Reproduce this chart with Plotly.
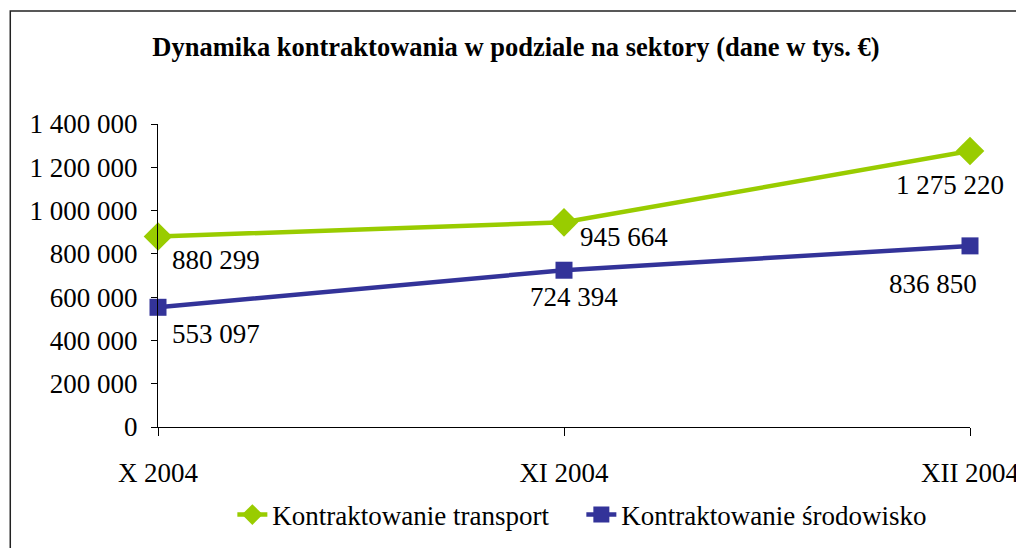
import plotly.graph_objects as go

categories = ["X 2004", "XI 2004", "XII 2004"]
transport = [880299, 945664, 1275220]
srodowisko = [553097, 724394, 836850]
series_names = ["Kontraktowanie transport", "Kontraktowanie środowisko"]
y_ticks = [0, 200000, 400000, 600000, 800000, 1000000, 1200000, 1400000]

# label pixel offsets (dx, dy) per point
transport_label_offsets = [(58, -24), (60, -15), (-20, -34)]
srodowisko_label_offsets = [(58, -27), (10, -27), (-37, -38)]

FONT = "Liberation Serif, Times New Roman, serif"
GREEN = "#99CC00"
BLUE = "#333399"

W, H = 1024, 548
L, T, PW, PH = 150, 116, 819, 303


def fmt(v):
    return f"{v:,}".replace(",", " ")


fig = go.Figure()
fig.add_trace(go.Scatter(
    x=categories, y=transport, name=series_names[0], mode="lines+markers",
    line=dict(color=GREEN, width=4.5),
    marker=dict(symbol="diamond", size=22, color=GREEN),
    cliponaxis=False,
))
fig.add_trace(go.Scatter(
    x=categories, y=srodowisko, name=series_names[1], mode="lines+markers",
    line=dict(color=BLUE, width=4.5),
    marker=dict(symbol="square", size=17, color=BLUE),
    cliponaxis=False,
))

annotations = []
for vals, offs in ((transport, transport_label_offsets), (srodowisko, srodowisko_label_offsets)):
    for c, v, (dx, dy) in zip(categories, vals, offs):
        annotations.append(dict(
            x=c, y=v, xref="x", yref="y", text=fmt(v), showarrow=False,
            xanchor="center", yanchor="middle", xshift=dx, yshift=dy,
            font=dict(family=FONT, size=27, color="black"),
        ))

fig.update_layout(
    width=W, height=H,
    margin=dict(l=L, r=W - L - PW, t=T, b=H - T - PH),
    paper_bgcolor="white", plot_bgcolor="white",
    separators=", ",
    font=dict(family=FONT, size=27, color="black"),
    title=dict(
        text="<b>Dynamika kontraktowania w podziale na sektory (dane w tys. €)</b>",
        x=508 / W, xref="container", xanchor="center",
        y=1 - 39 / H, yref="container", yanchor="middle",
        font=dict(family=FONT, size=26.5, color="black"),
    ),
    xaxis=dict(
        type="category", range=[0, 2], showgrid=False, zeroline=False,
        showline=True, linecolor="black", linewidth=1,
        ticks="outside", ticklen=8, tickcolor="black",
        ticklabelstandoff=14,
        tickfont=dict(family=FONT, size=27, color="black"),
    ),
    yaxis=dict(
        range=[0, 1400000], tickvals=y_ticks, tickformat=",d",
        showgrid=False, zeroline=False,
        showline=True, linecolor="black", linewidth=1,
        ticks="outside", ticklen=6, tickcolor="black",
        ticklabelstandoff=8,
        tickfont=dict(family=FONT, size=27, color="black"),
    ),
    legend=dict(
        orientation="h", x=(225 - L) / PW, xanchor="left",
        y=(T + PH - 507) / PH, yanchor="middle",
        entrywidth=304, entrywidthmode="pixels",
        font=dict(family=FONT, size=27, color="black"),
        bgcolor="rgba(0,0,0,0)",
    ),
    annotations=annotations,
    shapes=[dict(
        type="rect", xref="paper", yref="paper",
        x0=(1 - L) / PW, x1=(W + 20 - L) / PW,
        y0=(T + PH - (H + 20)) / PH, y1=(T + PH - 3) / PH,
        line=dict(color="#222222", width=1.5), fillcolor="rgba(0,0,0,0)",
        layer="below",
    )],
)

fig.write_html("out.html")
